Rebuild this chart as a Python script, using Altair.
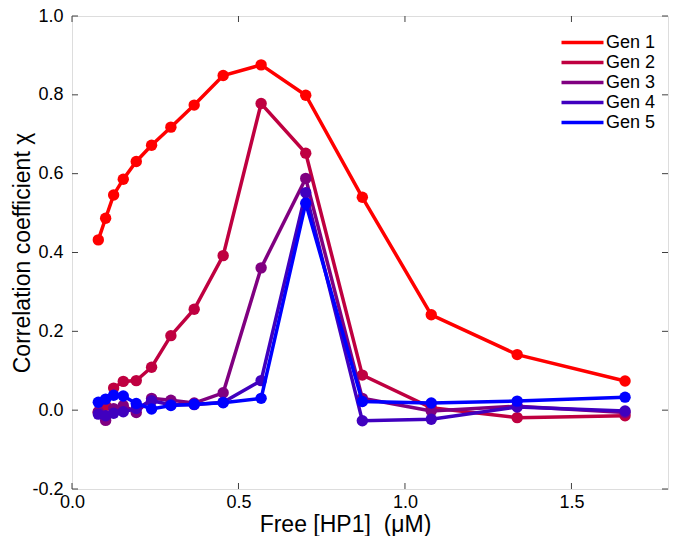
import altair as alt
import pandas as pd

# ---- data ----
free_hp1 = [0.079, 0.101, 0.125, 0.154, 0.193, 0.239, 0.297, 0.367, 0.454,
            0.568, 0.702, 0.872, 1.079, 1.337, 1.661]
gen1 = [0.432, 0.487, 0.546, 0.586, 0.631, 0.672, 0.718, 0.774, 0.849,
        0.876, 0.799, 0.540, 0.242, 0.141, 0.074]
gen2 = [-0.005, 0.012, 0.056, 0.073, 0.075, 0.109, 0.189, 0.256, 0.392,
        0.778, 0.652, 0.089, 0.006, -0.019, -0.014]
gen3 = [-0.004, -0.026, 0.004, 0.012, -0.006, 0.030, 0.025, 0.018, 0.044,
        0.361, 0.588, 0.030, -0.002, 0.010, -0.006]
gen4 = [-0.010, -0.014, -0.008, -0.004, 0.004, 0.024, 0.014, 0.014, 0.020,
        0.075, 0.552, -0.027, -0.023, 0.008, -0.002]
gen5 = [0.020, 0.028, 0.038, 0.036, 0.017, 0.003, 0.012, 0.015, 0.019,
        0.030, 0.525, 0.022, 0.018, 0.023, 0.033]
series_names = ["Gen 1", "Gen 2", "Gen 3", "Gen 4", "Gen 5"]
series_colors = ["#FF0000", "#BF0040", "#800080", "#4000BF", "#0000FF"]
x_ticks = [0.0, 0.5, 1.0, 1.5]
y_ticks = [-0.2, 0.0, 0.2, 0.4, 0.6, 0.8, 1.0]

rows = []
for name, vals in zip(series_names, [gen1, gen2, gen3, gen4, gen5]):
    for xv, yv in zip(free_hp1, vals):
        rows.append({"x": xv, "y": yv, "gen": name})
df = pd.DataFrame(rows)

W, H = 596, 473
FONT = "Liberation Sans"
FRAME = "#404040"

xscale = alt.Scale(domain=[0, 1.79], nice=False, zero=False)
yscale = alt.Scale(domain=[-0.2, 1.0], nice=False, zero=False)
cscale = alt.Scale(domain=series_names, range=series_colors)

LBL = "replace(format(datum.value, '.1f'), '\u2212', '-')"
xaxis = alt.Axis(values=x_ticks, labelExpr=LBL, labelFlush=False,
                 ticks=False, domain=False, grid=False, labelFontSize=18,
                 labelFont=FONT, labelColor="black", labelPadding=4,
                 title="Free [HP1] \u00a0(\u03bcM)", titleFontSize=23, titleFont=FONT,
                 titleFontWeight="normal", titleColor="black", titlePadding=2,
                 titleX=273, titleAlign="center", titleAnchor="middle")
yaxis = alt.Axis(values=y_ticks, labelExpr=LBL, labelFlush=False,
                 ticks=False, domain=False, grid=False, labelFontSize=18,
                 labelFont=FONT, labelColor="black", labelPadding=9,
                 title="Correlation coefficient \u03c7", titleFontSize=23, titleFont=FONT,
                 titleFontWeight="normal", titleColor="black", titlePadding=-3)

legend = alt.Legend(title=None, orient="none", legendX=500, legendY=16,
                    symbolType="M-2.47,0H2.47", symbolSize=289, symbolStrokeWidth=3.5,
                    symbolFillColor="transparent",
                    labelFontSize=18, labelFont=FONT, labelColor="black",
                    labelOffset=13, rowPadding=0, padding=0)

X = alt.X("x:Q", scale=xscale, axis=xaxis)
Y = alt.Y("y:Q", scale=yscale, axis=yaxis)

layers = []
for i, name in enumerate(series_names):
    sub = alt.Chart(df).transform_filter(alt.datum.gen == name)
    line = sub.mark_line(strokeWidth=3.5).encode(
        x=X, y=Y,
        color=alt.Color("gen:N", scale=cscale, legend=legend),
    )
    pts = sub.mark_circle(size=130, opacity=1).encode(
        x=X, y=Y,
        color=alt.Color("gen:N", scale=cscale, legend=None),
    )
    layers += [line, pts]

xt = pd.DataFrame({"x": x_ticks})
yt = pd.DataFrame({"y": y_ticks})
TL = 6
tick_layers = [
    alt.Chart(xt).mark_rule(color=FRAME, strokeWidth=1).encode(
        x=X, y=alt.value(H), y2=alt.value(H - TL)),
    alt.Chart(xt).mark_rule(color=FRAME, strokeWidth=1).encode(
        x=X, y=alt.value(0), y2=alt.value(TL)),
    alt.Chart(yt).mark_rule(color=FRAME, strokeWidth=1).encode(
        y=Y, x=alt.value(0), x2=alt.value(TL)),
    alt.Chart(yt).mark_rule(color=FRAME, strokeWidth=1).encode(
        y=Y, x=alt.value(W), x2=alt.value(W - TL)),
]

chart = alt.layer(*tick_layers, *layers).properties(
    width=W, height=H,
    autosize=alt.AutoSizeParams(type="none"),
    padding={"left": 64, "top": 8, "right": 1, "bottom": 47},
).configure_view(stroke=FRAME, strokeWidth=1.2).configure(background="white")

chart.save("out.html", embed_options={"renderer": "svg", "actions": False})
